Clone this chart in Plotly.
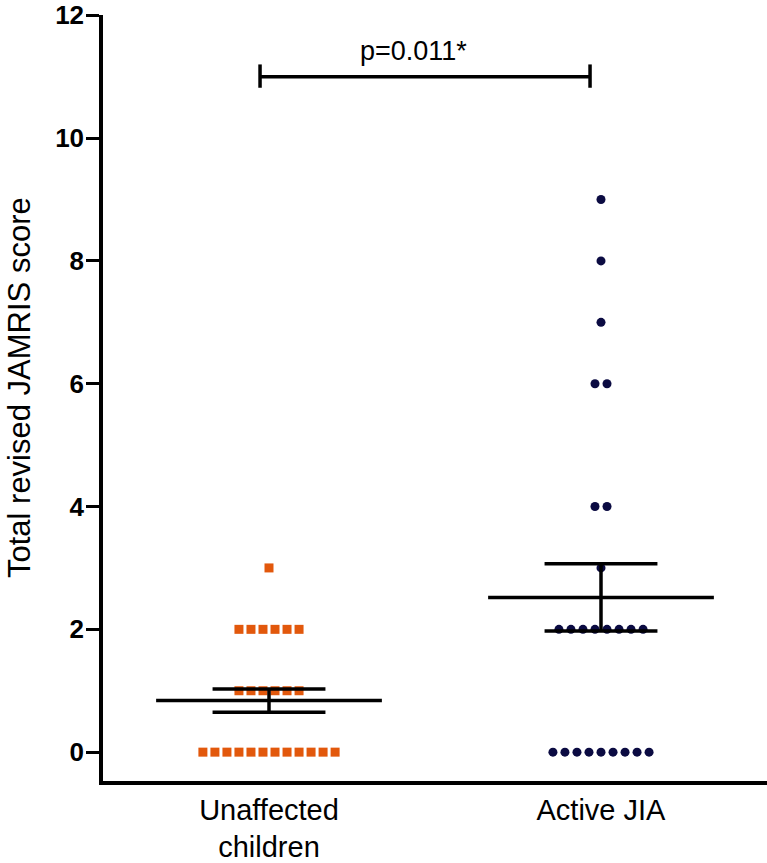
import plotly.graph_objects as go
import numpy as np

# ---- data ----
categories = ["Unaffected<br>children", "Active JIA"]
unaffected_scores = [0, 0, 0, 0, 0, 0, 0, 0, 0, 0, 0, 0,
                     1, 1, 1, 1, 1, 1,
                     2, 2, 2, 2, 2, 2,
                     3]
active_scores = [0, 0, 0, 0, 0, 0, 0, 0, 0,
                 2, 2, 2, 2, 2, 2, 2, 2,
                 3,
                 4, 4,
                 6, 6,
                 7,
                 8,
                 9]
p_label = "p=0.011*"
y_ticks = [0, 2, 4, 6, 8, 10, 12]

ORANGE = "#E2580C"
NAVY = "#0B0B42"
SPACING = 0.0362  # horizontal spacing between stacked points (x units)


def stacked_x(center, values):
    values = np.asarray(values)
    xs = np.zeros(len(values), dtype=float)
    for v in np.unique(values):
        idx = np.where(values == v)[0]
        n = len(idx)
        offs = (np.arange(n) - (n - 1) / 2.0) * SPACING
        xs[idx] = center + offs
    return xs


def mean_sem(values):
    a = np.asarray(values, dtype=float)
    return a.mean(), a.std(ddof=1) / np.sqrt(len(a))


fig = go.Figure()

groups = [
    (1, unaffected_scores, ORANGE, "square"),
    (2, active_scores, NAVY, "circle"),
]

for center, vals, color, sym in groups:
    fig.add_trace(go.Scatter(
        x=stacked_x(center, vals), y=vals, mode="markers",
        marker=dict(symbol=sym, size=9, color=color, line=dict(width=0)),
        showlegend=False, hoverinfo="skip",
    ))

MEAN_HW = 0.34
CAP_HW = 0.17
LW = 3.5
for center, vals, color, sym in groups:
    m, s = mean_sem(vals)
    fig.add_trace(go.Scatter(x=[center - MEAN_HW, center + MEAN_HW], y=[m, m],
                             mode="lines", line=dict(color="black", width=LW),
                             showlegend=False, hoverinfo="skip"))
    fig.add_trace(go.Scatter(x=[center, center], y=[m - s, m + s],
                             mode="lines", line=dict(color="black", width=LW),
                             showlegend=False, hoverinfo="skip"))
    for yy in (m - s, m + s):
        fig.add_trace(go.Scatter(x=[center - CAP_HW, center + CAP_HW], y=[yy, yy],
                                 mode="lines", line=dict(color="black", width=LW),
                                 showlegend=False, hoverinfo="skip"))

# significance bracket
bx0, bx1, by = 0.973, 1.967, 11.0
fig.add_shape(type="line", x0=bx0, x1=bx1, y0=by, y1=by, xref="x", yref="y",
              line=dict(color="black", width=3.5))
for bx in (bx0, bx1):
    fig.add_shape(type="line", x0=bx, x1=bx, y0=by - 0.18, y1=by + 0.2,
                  xref="x", yref="y", line=dict(color="black", width=3.5))
fig.add_annotation(x=1.434, y=by + 0.42, xref="x", yref="y", text=p_label,
                   showarrow=False, yanchor="middle",
                   font=dict(family="Liberation Sans, Arial", size=27, color="black"))

# y-axis title as annotation
fig.add_annotation(x=0, xref="paper", xshift=-84, xanchor="center",
                   y=0.513, yref="paper", yanchor="middle",
                   text="Total revised JAMRIS score", textangle=-90,
                   showarrow=False,
                   font=dict(family="Liberation Sans, Arial", size=31, color="black"))

fig.update_layout(
    width=767, height=863,
    margin=dict(l=103, r=0, t=12, b=81),
    plot_bgcolor="white", paper_bgcolor="white",
    xaxis=dict(range=[0.5, 2.5], tickvals=[1, 2], ticktext=categories,
               showline=True, linecolor="black", linewidth=3.5,
               ticks="", showgrid=False, zeroline=False,
               tickfont=dict(family="Liberation Sans, Arial", size=29, color="black")),
    yaxis=dict(range=[-0.47, 12.005], tickvals=y_ticks,
               showline=True, linecolor="black", linewidth=3.5,
               ticks="outside", ticklen=13, tickwidth=3, tickcolor="black",
               showgrid=False, zeroline=False, ticklabelstandoff=-3,
               ticklabeloverflow="allow",
               tickfont=dict(family="Liberation Sans, Arial", size=26, color="black",
                             weight="bold")),
)

fig.write_html("out.html",
               config={"displayModeBar": False},
               post_script="document.body.style.margin='0';document.body.style.overflow='hidden';")
